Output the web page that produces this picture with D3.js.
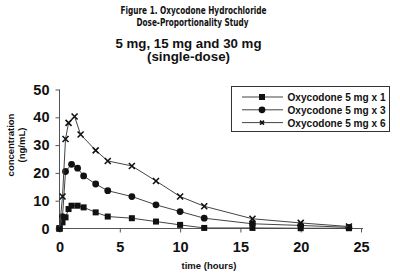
<!DOCTYPE html>
<html>
<head>
<meta charset="utf-8">
<script src="https://cdn.jsdelivr.net/npm/d3@7"></script>
<style>
  body { margin: 0; background: #fff; }
  svg text { font-family: "Liberation Sans", Arial, sans-serif; fill: #111; }
</style>
</head>
<body>
<div id="chart"></div>
<script>
// sampling times (hours) and concentrations (ng/mL)
var timesX1 = [0, 0.25, 0.5, 0.75, 1, 1.5, 2, 3, 4, 6, 8, 10, 12, 16, 20, 24];
var concX1  = [0, 2.2, 4.0, 7.0, 8.2, 8.2, 7.6, 5.8, 4.3, 3.7, 2.5, 1.3, 0.2, 0.2, 0.1, 0.1];

var timesX3 = [0, 0.25, 0.5, 1, 1.5, 2, 3, 4, 6, 8, 10, 12, 16, 20, 24];
var concX3  = [0, 4.3, 20.5, 23.1, 21.7, 18.9, 16.0, 13.6, 11.5, 8.5, 6.1, 3.7, 1.7, 1.1, 0.4];

var timesX6 = [0, 0.25, 0.5, 0.75, 1.25, 1.75, 3, 4, 6, 8, 10, 12, 16, 20, 24];
var concX6  = [0, 11.5, 32.2, 38.0, 40.3, 33.8, 28.1, 24.3, 22.5, 17.1, 11.5, 8.0, 3.5, 2.0, 0.7];

var seriesNames = ["Oxycodone 5 mg x 1", "Oxycodone 5 mg x 3", "Oxycodone 5 mg x 6"];
var xTicks = [0, 5, 10, 15, 20, 25];
var yTicks = [0, 10, 20, 30, 40, 50];

var W = 400, H = 276;
var svg = d3.select("#chart").append("svg")
    .attr("width", W)
    .attr("height", H);

var x = d3.scaleLinear().domain([0, 25]).range([59.5, 361]);
var y = d3.scaleLinear().domain([0, 50]).range([228.5, 89.5]);

// titles
svg.append("text").attr("x", 193.5).attr("y", 14)
    .attr("text-anchor", "middle")
    .style("font-family", "'Liberation Sans Narrow', 'DejaVu Sans Condensed', sans-serif")
    .style("font-weight", "bold").style("font-size", "10.5px")
    .attr("textLength", 146).attr("lengthAdjust", "spacingAndGlyphs")
    .text("Figure 1. Oxycodone Hydrochloride");
svg.append("text").attr("x", 192.5).attr("y", 25.5)
    .attr("text-anchor", "middle")
    .style("font-family", "'Liberation Sans Narrow', 'DejaVu Sans Condensed', sans-serif")
    .style("font-weight", "bold").style("font-size", "10.5px")
    .attr("textLength", 112).attr("lengthAdjust", "spacingAndGlyphs")
    .text("Dose-Proportionality Study");
svg.append("text").attr("x", 188.5).attr("y", 47.5)
    .attr("text-anchor", "middle")
    .style("font-weight", "bold").style("font-size", "13px")
    .attr("textLength", 146).attr("lengthAdjust", "spacingAndGlyphs")
    .text("5 mg, 15 mg and 30 mg");
svg.append("text").attr("x", 188.5).attr("y", 61)
    .attr("text-anchor", "middle")
    .style("font-weight", "bold").style("font-size", "13px")
    .attr("textLength", 83).attr("lengthAdjust", "spacingAndGlyphs")
    .text("(single-dose)");

// axes
var xAxis = d3.axisBottom(x).tickValues(xTicks).tickSize(4).tickPadding(9);
var gx = svg.append("g").attr("transform", "translate(0," + y(0) + ")").call(xAxis);
gx.select(".domain").attr("d", "M" + x(0) + ",0H" + (x(25) + 2));
gx.selectAll("text").style("font-size", "14.5px").style("font-weight", "bold");

var yAxis = d3.axisLeft(y).tickValues(yTicks).tickSize(4).tickPadding(6);
var gy = svg.append("g").attr("transform", "translate(" + x(0) + ",0)").call(yAxis);
gy.select(".domain").attr("d", "M0," + y(0) + "V" + y(50));
gy.selectAll("text").style("font-size", "14.5px").style("font-weight", "bold");
svg.selectAll(".domain, .tick line").attr("stroke", "#555");

svg.append("text").attr("x", 209).attr("y", 269)
    .attr("text-anchor", "middle")
    .style("font-weight", "bold").style("font-size", "9.5px")
    .text("time (hours)");
svg.append("text").attr("transform", "translate(14,145) rotate(-90)")
    .attr("text-anchor", "middle")
    .style("font-weight", "bold").style("font-size", "9.5px")
    .text("concentration");
svg.append("text").attr("transform", "translate(25,145) rotate(-90)")
    .attr("text-anchor", "middle")
    .style("font-weight", "bold").style("font-size", "9.5px")
    .text("(ng/mL)");

// marker drawing
function drawMarker(g, kind, s) {
  s = s || 3;
  if (kind === 0) {
    g.append("rect").attr("x", -s).attr("y", -s).attr("width", 2 * s).attr("height", 2 * s).attr("fill", "#111");
  } else if (kind === 1) {
    g.append("circle").attr("r", s + 0.4).attr("fill", "#111");
  } else {
    g.append("path").attr("d", "M" + (-s) + "," + (-s) + "L" + s + "," + s + "M" + (-s) + "," + s + "L" + s + "," + (-s))
        .attr("stroke", "#111").attr("stroke-width", 1.6).attr("fill", "none");
  }
}

var series = [
  { t: timesX1, c: concX1 },
  { t: timesX3, c: concX3 },
  { t: timesX6, c: concX6 }
];

var line = d3.line()
    .x(function (d) { return x(d[0]); })
    .y(function (d) { return y(d[1]); });

series.forEach(function (s, k) {
  var pts = s.t.map(function (t, i) { return [t, s.c[i]]; });
  svg.append("path")
      .attr("d", line(pts))
      .attr("fill", "none")
      .attr("stroke", "#444")
      .attr("stroke-width", 1);
  pts.forEach(function (p) {
    var g = svg.append("g").attr("transform", "translate(" + x(p[0]) + "," + y(p[1]) + ")");
    drawMarker(g, k);
  });
});

// legend
var lg = svg.append("g");
lg.append("rect").attr("x", 231.5).attr("y", 86.5).attr("width", 158).attr("height", 45)
    .attr("fill", "#fff").attr("stroke", "#333").attr("stroke-width", 1);
seriesNames.forEach(function (name, k) {
  var yy = 97 + k * 12.8;
  lg.append("line").attr("x1", 242).attr("x2", 283).attr("y1", yy).attr("y2", yy)
      .attr("stroke", "#444").attr("stroke-width", 1);
  drawMarker(lg.append("g").attr("transform", "translate(262," + yy + ")"), k, k === 2 ? 2 : 3);
  lg.append("text").attr("x", 287.5).attr("y", yy + 4)
      .style("font-weight", "bold").style("font-size", "11px")
      .attr("textLength", 98).attr("lengthAdjust", "spacingAndGlyphs")
      .text(name);
});
</script>
</body>
</html>
